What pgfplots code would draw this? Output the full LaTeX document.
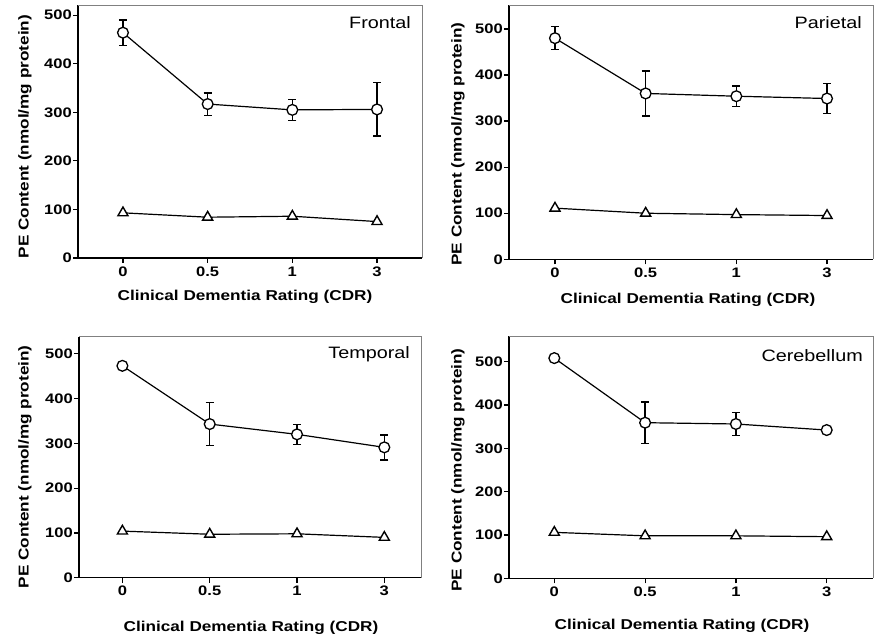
\documentclass[border=0pt]{standalone}
\usepackage{pgfplots}
\pgfplotsset{compat=1.18}
\usepackage{fontspec}
\setmainfont{Liberation Sans}
\newfontfamily\stretchfont[FakeStretch=1.2]{Liberation Sans}
\newcommand\labfont{\stretchfont\bfseries\fontsize{14.3}{16}\selectfont}
\newcommand\tickfont{\stretchfont\bfseries\fontsize{13.8}{15}\selectfont}
\newcommand\titfont{\stretchfont\fontsize{16.5}{18}\selectfont}
\pgfplotsset{
 panel/.style={
  scale only axis, clip=false, anchor=south west,
  ymin=0, xtick={0,1,2,3}, xticklabels={0,0.5,1,3},
  ytick={0,100,200,300,400,500},
  axis x line*=bottom, axis y line*=left,
  axis line style={line width=1.4pt,-},
  tick align=outside, major tick length=5pt,
  every tick/.style={line width=1.2pt, black},
  tick label style={font=\tickfont},
  /pgf/number format/assume math mode=true,
  yticklabel style={inner sep=1pt},
 },
 circ/.style={black, line width=1.2pt, mark=*, mark size=5.4pt,
  mark options={fill=white, draw=black, line width=1.3pt},
  error bars/.cd, y dir=both, y explicit,
  error bar style={line width=1.4pt},
  error mark options={rotate=90, mark size=4pt, line width=1.4pt}},
 tri/.style={black, line width=1.2pt, mark=triangle*, mark size=5.8pt,
  mark options={fill=white, draw=black, line width=1.4pt}},
}
\begin{document}
\begin{tikzpicture}
\useasboundingbox (0,0) rectangle (874pt,635pt);
% Frontal
\begin{axis}[panel, at={(78pt,377pt)}, width=344pt, height=253pt,
  xmin=-0.531, xmax=3.531, ymax=521]
\draw[gray, line width=0.9pt] (rel axis cs:0,1) -- (rel axis cs:1,1) -- (rel axis cs:1,0);
\addplot[circ] coordinates {(0,464) +- (0,26) (1,317) +- (0,23) (2,305) +- (0,22) (3,306) +- (0,55)};
\addplot[tri] coordinates {(0,93) (1,84) (2,86) (3,75)};
\node[anchor=east, inner sep=0pt, font=\titfont] at ([xshift=-11pt,yshift=-18pt]rel axis cs:1,1) {Frontal};
\node[font=\labfont] at ([xshift=-5pt,yshift=-39pt]rel axis cs:0.5,0) {Clinical Dementia Rating (CDR)};
\node[rotate=90, font=\labfont] at ([xshift=-53pt]rel axis cs:0,0.48) {PE Content (nmol/mg protein)};
\end{axis}
% Parietal
\begin{axis}[panel, at={(509pt,375.7pt)}, width=364pt, height=254.3pt,
  xmin=-0.507, xmax=3.507, ymax=552]
\draw[gray, line width=0.9pt] (rel axis cs:0,1) -- (rel axis cs:1,1) -- (rel axis cs:1,0);
\addplot[circ] coordinates {(0,480) +- (0,25) (1,360) +- (0,49) (2,354) +- (0,22) (3,349) +- (0,33)};
\addplot[tri] coordinates {(0,111) (1,100) (2,97) (3,95)};
\node[anchor=east, inner sep=0pt, font=\titfont] at ([xshift=-11pt,yshift=-18pt]rel axis cs:1,1) {Parietal};
\node[font=\labfont] at ([xshift=-3pt,yshift=-41pt]rel axis cs:0.5,0) {Clinical Dementia Rating (CDR)};
\node[rotate=90, font=\labfont] at ([xshift=-51pt]rel axis cs:0,0.453) {PE Content (nmol/mg protein)};
\end{axis}
% Temporal
\begin{axis}[panel, at={(79pt,57.3pt)}, width=342pt, height=241pt,
  xmin=-0.497, xmax=3.42, ymax=538]
\draw[gray, line width=0.9pt] (rel axis cs:0,1) -- (rel axis cs:1,1) -- (rel axis cs:1,0);
\addplot[circ] coordinates {(0,473) +- (0,0) (1,343) +- (0,48) (2,320) +- (0,22) (3,291) +- (0,28)};
\addplot[tri] coordinates {(0,104) (1,97) (2,98) (3,90)};
\node[anchor=east, inner sep=0pt, font=\titfont] at ([xshift=-11pt,yshift=-18pt]rel axis cs:1,1) {Temporal};
\node[font=\labfont] at ([xshift=1pt,yshift=-50pt]rel axis cs:0.5,0) {Clinical Dementia Rating (CDR)};
\node[rotate=90, font=\labfont] at ([xshift=-54pt]rel axis cs:0,0.46) {PE Content (nmol/mg protein)};
\end{axis}
% Cerebellum
\begin{axis}[panel, at={(509pt,56.7pt)}, width=364pt, height=242.3pt,
  xmin=-0.499, xmax=3.51, ymax=559]
\draw[gray, line width=0.9pt] (rel axis cs:0,1) -- (rel axis cs:1,1) -- (rel axis cs:1,0);
\addplot[circ] coordinates {(0,508) +- (0,0) (1,359) +- (0,48) (2,356) +- (0,26) (3,342) +- (0,0)};
\addplot[tri] coordinates {(0,106) (1,98) (2,98) (3,96)};
\node[anchor=east, inner sep=0pt, font=\titfont] at ([xshift=-10pt,yshift=-20pt]rel axis cs:1,1) {Cerebellum};
\node[font=\labfont] at ([xshift=-9pt,yshift=-48pt]rel axis cs:0.5,0) {Clinical Dementia Rating (CDR)};
\node[rotate=90, font=\labfont] at ([xshift=-51pt]rel axis cs:0,0.447) {PE Content (nmol/mg protein)};
\end{axis}
\end{tikzpicture}
\end{document}
